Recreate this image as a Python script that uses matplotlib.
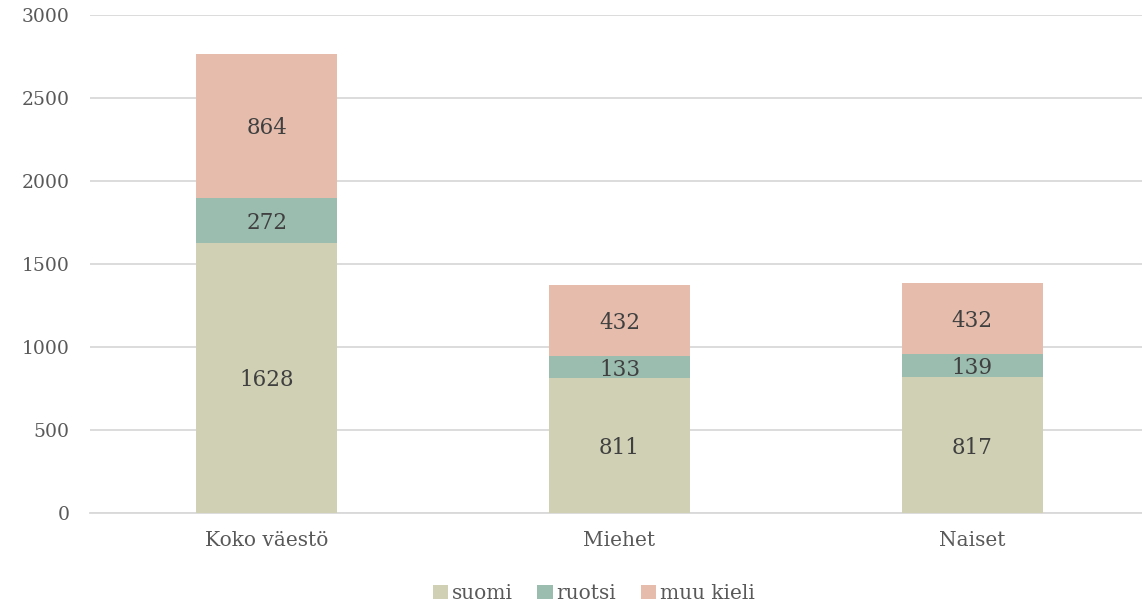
import matplotlib.pyplot as plt
import numpy as np

categories = ["Koko väestö", "Miehet", "Naiset"]
suomi = [1628, 811, 817]
ruotsi = [272, 133, 139]
muu_kieli = [864, 432, 432]

series_names = ["suomi", "ruotsi", "muu kieli"]
colors = ["#D0D0B4", "#9BBDAF", "#E6BDAC"]

plt.rcParams["font.family"] = ["DejaVu Serif"]

fig = plt.figure(figsize=(11.42, 6.06), dpi=100)
ax = fig.add_axes([0.079, 0.1535, 0.927, 0.8218])

x = np.arange(len(categories))
bottom = np.zeros(len(categories))
for name, vals, col in zip(series_names, [suomi, ruotsi, muu_kieli], colors):
    bars = ax.bar(x, vals, width=0.4, bottom=bottom, color=col, label=name, zorder=3)
    for b, v, base in zip(bars, vals, bottom):
        ax.text(b.get_x() + b.get_width() / 2, base + v / 2 - 15, str(v),
                ha="center", va="center", fontsize=15.5, color="#404040", zorder=4)
    bottom += np.array(vals)

ax.set_xlim(-0.5, 2.5)
ax.set_ylim(0, 3000)
ax.set_yticks(range(0, 3001, 500))
ax.set_xticks(x)
ax.set_xticklabels(categories)
ax.yaxis.grid(True, color="#D9D9D9", linewidth=1.3, zorder=0)
for s in ["top", "right", "left"]:
    ax.spines[s].set_visible(False)
ax.spines["bottom"].set_color("#D9D9D9")
ax.spines["bottom"].set_linewidth(1.3)
ax.tick_params(axis="y", length=0, labelsize=13.5, colors="#595959", pad=15)
ax.tick_params(axis="x", length=0, labelsize=14.5, colors="#595959", pad=13)

fig.legend(loc="lower center", bbox_to_anchor=(0.52, -0.025), ncol=3, frameon=False,
           fontsize=14.5, handlelength=0.75, handleheight=0.75, handletextpad=0.2,
           columnspacing=1.2, labelcolor="#595959")

fig.savefig("out.png", dpi=100)
